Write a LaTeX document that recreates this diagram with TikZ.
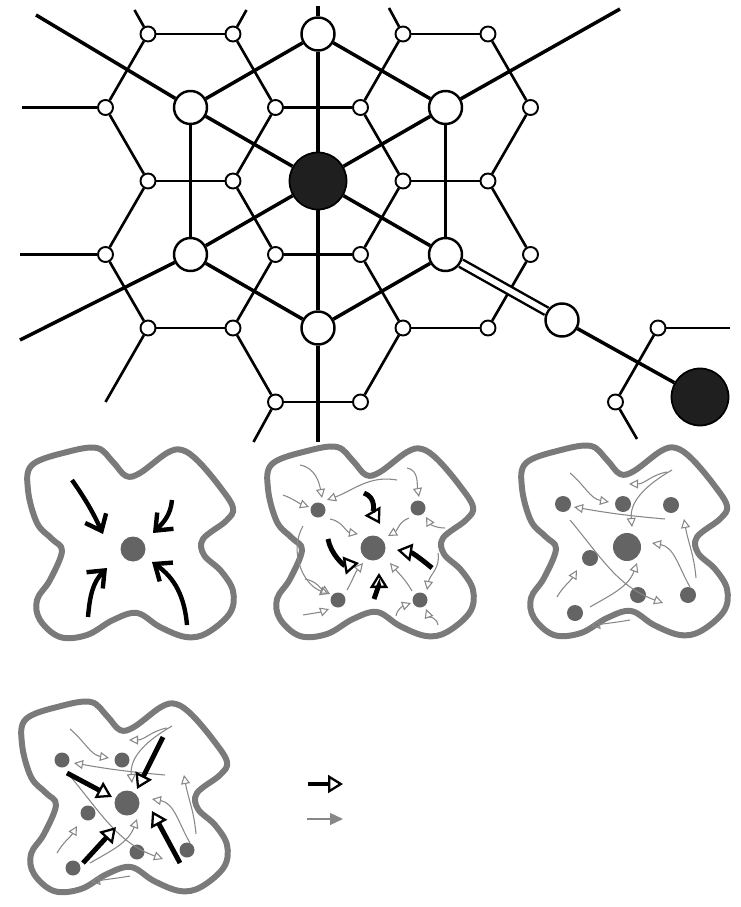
\documentclass[tikz,border=0pt]{standalone}
\usepackage{tikz}
\usetikzlibrary{arrows.meta}
\definecolor{lobegray}{RGB}{122,122,122}
\definecolor{dotgray}{RGB}{100,100,100}
\definecolor{driftgray}{RGB}{135,135,135}

% cross shaped cell, drawn round the current origin
\newcommand{\lobeoutline}{%
  \draw[lobe] plot[smooth cycle, tension=0.6] coordinates {
    (-2.02,1.68) (-1.32,1.94) (-0.72,2.02) (-0.40,1.74) (-0.14,1.46) (0.14,1.52)
    (0.68,1.92) (0.98,1.98) (1.30,1.76) (1.74,1.24) (2.00,0.82) (1.86,0.56)
    (1.40,0.20) (1.42,-0.12) (1.76,-0.44) (2.00,-0.84) (1.94,-1.28) (1.48,-1.68)
    (1.06,-1.76) (0.54,-1.56) (0.08,-1.28) (-0.40,-1.42) (-0.92,-1.72) (-1.46,-1.76)
    (-1.86,-1.42) (-1.92,-1.02) (-1.66,-0.62) (-1.42,-0.04) (-1.62,0.20) (-1.92,0.52)
    (-2.10,1.18)};}

% thin flows between the small cells
\newcommand{\wander}{%
  \draw[driftarrow] (-1.14,1.48) to[out=-40,in=170] (-0.36,0.90);
  \draw[driftarrow] (0.80,1.50) to[out=190,in=0] (0.04,1.26);
  \draw[driftarrow] (0.90,1.54) to[out=-150,in=95] (0.10,0.40);
  \draw[driftarrow] (0.76,0.56) to[out=175,in=-10] (-1.06,0.80);
  \draw[driftarrow] (-1.14,0.54) to[out=-50,in=160] (0.72,-1.12);
  \draw[driftarrow] (-0.74,-1.20) to[out=30,in=-110] (0.20,-0.32);
  \draw[driftarrow] (1.26,-0.80) to[out=120,in=-10] (0.50,0.08);
  \draw[driftarrow] (1.38,-0.62) to[out=95,in=-80] (1.14,0.56);
  \draw[driftarrow] (-1.40,-1.00) to[out=60,in=-120] (-1.00,-0.46);
  \draw[driftarrow] (0.06,-1.46) to[out=190,in=10] (-0.72,-1.58);}

\begin{document}
\begin{tikzpicture}[
    site/.style={draw, circle, fill=white, line width=1.1pt, minimum size=3mm, inner sep=0pt},
    hub/.style={draw, circle, fill=white, line width=1.4pt, minimum size=6.6mm, inner sep=0pt},
    core/.style={draw, circle, fill=black!88, line width=1pt, minimum size=11.4mm, inner sep=0pt},
    link/.style={line width=1.5pt},
    spoke/.style={line width=2pt},
    lobe/.style={draw=lobegray, line width=3.4pt, fill=white, line join=round},
    pullarrow/.style={line width=2.5pt, -{Straight Barb[length=2.8mm,width=4.6mm]}},
    pusharrow/.style={line width=2.8pt, -{Triangle[open,length=3mm,width=3.6mm,line width=1.3pt]}},
    driftarrow/.style={draw=driftgray, line width=0.6pt, -{Triangle[open,length=1.8mm,width=1.8mm]}}]
  \useasboundingbox (0,0) rectangle (14.82,-18.14);

  % centres of the seven hexagons
  \node[core] (c) at (6.36,-3.62) {};
  \node[hub] (t) at (6.36,-0.68) {};
  \node[hub] (b) at (6.36,-6.56) {};
  \node[hub] (ul) at (3.81,-2.15) {};
  \node[hub] (ll) at (3.81,-5.09) {};
  \node[hub] (ur) at (8.91,-2.15) {};
  \node[hub] (lr) at (8.91,-5.09) {};
  \node[hub] (relay) at (11.24,-6.40) {};
  \node[core] (sink) at (14.00,-7.94) {};

  % corners of the hexagons
  \node[site] (a1) at (2.96,-0.68) {};
  \node[site] (a2) at (4.66,-0.68) {};
  \node[site] (a3) at (8.06,-0.68) {};
  \node[site] (a4) at (9.76,-0.68) {};
  \node[site] (b1) at (2.11,-2.15) {};
  \node[site] (b2) at (5.51,-2.15) {};
  \node[site] (b3) at (7.21,-2.15) {};
  \node[site] (b4) at (10.61,-2.15) {};
  \node[site] (c1) at (2.96,-3.62) {};
  \node[site] (c2) at (4.66,-3.62) {};
  \node[site] (c3) at (8.06,-3.62) {};
  \node[site] (c4) at (9.76,-3.62) {};
  \node[site] (d1) at (2.11,-5.09) {};
  \node[site] (d2) at (5.51,-5.09) {};
  \node[site] (d3) at (7.21,-5.09) {};
  \node[site] (d4) at (10.61,-5.09) {};
  \node[site] (e1) at (2.96,-6.56) {};
  \node[site] (e2) at (4.66,-6.56) {};
  \node[site] (e3) at (8.06,-6.56) {};
  \node[site] (e4) at (9.76,-6.56) {};
  \node[site] (f1) at (5.51,-8.04) {};
  \node[site] (f2) at (7.21,-8.04) {};
  \node[site] (g1) at (13.16,-6.56) {};
  \node[site] (g2) at (12.31,-8.04) {};

  % loose ends
  \coordinate (a1x) at (2.69,-0.20);
  \coordinate (a2x) at (4.93,-0.20);
  \coordinate (a3x) at (7.78,-0.16);
  \coordinate (b1x) at (0.44,-2.15);
  \coordinate (d1x) at (0.40,-5.09);
  \coordinate (e1x) at (2.11,-8.04);
  \coordinate (f1x) at (5.07,-8.84);
  \coordinate (g1x) at (14.60,-6.56);
  \coordinate (g2x) at (12.74,-8.78);
  \coordinate (tx) at (6.36,-0.12);
  \coordinate (bx) at (6.36,-8.84);
  \coordinate (ulx) at (0.72,-0.30);
  \coordinate (llx) at (0.40,-6.80);
  \coordinate (urx) at (12.40,-0.18);

  % hexagon edges
  \draw[link] (b2) -- (c2); \draw[link] (c2) -- (c1); \draw[link] (c1) -- (b1);
  \draw[link] (b1) -- (a1); \draw[link] (a1) -- (a2); \draw[link] (a2) -- (b2);
  \draw[link] (b2) -- (b3); \draw[link] (b3) -- (a3);
  \draw[link] (a3) -- (a4); \draw[link] (a4) -- (b4); \draw[link] (b4) -- (c4);
  \draw[link] (c4) -- (c3); \draw[link] (c3) -- (b3);
  \draw[link] (c3) -- (d3); \draw[link] (d3) -- (d2); \draw[link] (d2) -- (c2);
  \draw[link] (d2) -- (e2); \draw[link] (e2) -- (e1); \draw[link] (e1) -- (d1); \draw[link] (d1) -- (c1);
  \draw[link] (c4) -- (d4); \draw[link] (d4) -- (e4); \draw[link] (e4) -- (e3); \draw[link] (e3) -- (d3);
  \draw[link] (e3) -- (f2); \draw[link] (f2) -- (f1); \draw[link] (f1) -- (e2);
  \draw[link] (g1) -- (g2);
  \draw[link] (a1) -- (a1x); \draw[link] (a2) -- (a2x); \draw[link] (a3) -- (a3x);
  \draw[link] (b1) -- (b1x); \draw[link] (d1) -- (d1x); \draw[link] (e1) -- (e1x);
  \draw[link] (f1) -- (f1x); \draw[link] (g1) -- (g1x); \draw[link] (g2) -- (g2x);

  % spokes and ring between the centres
  \draw[spoke] (tx) -- (t); \draw[spoke] (t) -- (c); \draw[spoke] (c) -- (b); \draw[spoke] (b) -- (bx);
  \draw[spoke] (ulx) -- (ul); \draw[spoke] (ul) -- (c); \draw[spoke] (c) -- (lr);
  \draw[spoke] (llx) -- (ll); \draw[spoke] (ll) -- (c); \draw[spoke] (c) -- (ur); \draw[spoke] (ur) -- (urx);
  \draw[spoke] (t) -- (ur); \draw[spoke] (ur) -- (lr); \draw[spoke] (lr) -- (b);
  \draw[spoke] (b) -- (ll); \draw[spoke] (ll) -- (ul); \draw[spoke] (ul) -- (t);
  \draw[line width=1.4pt, double=white, double distance=3.2pt] (lr) -- (relay);
  \draw[spoke] (relay) -- (sink);

  % cell 1
  \begin{scope}[shift={(2.66,-10.98)}]
    \lobeoutline
    \fill[dotgray] (0,0) circle (0.25);
    \draw[pullarrow] (-1.22,1.38) to[bend left=5] (-0.60,0.30);
    \draw[pullarrow] (0.78,0.98) to[out=-95,in=45] (0.40,0.32);
    \draw[pullarrow] (-0.90,-1.36) to[out=85,in=-135] (-0.52,-0.38);
    \draw[pullarrow] (1.08,-1.52) to[out=95,in=-35] (0.38,-0.26);
  \end{scope}

  % cell 2
  \begin{scope}[shift={(7.46,-10.96)}]
    \lobeoutline
    \fill[dotgray] (0,0) circle (0.25);
    \fill[dotgray] (-1.10,0.76) circle (0.15);
    \fill[dotgray] (0.90,0.80) circle (0.15);
    \fill[dotgray] (-0.70,-1.04) circle (0.15);
    \fill[dotgray] (0.94,-1.04) circle (0.15);
    \draw[driftarrow] (-1.46,1.66) to[out=-10,in=100] (-1.02,1.00);
    \draw[driftarrow] (-1.80,1.06) to[out=-20,in=160] (-1.28,0.82);
    \draw[driftarrow] (0.48,1.36) to[out=170,in=20] (-0.92,0.96);
    \draw[driftarrow] (0.68,1.60) to[out=-10,in=100] (0.92,1.02);
    \draw[driftarrow] (-0.86,0.58) to[out=-10,in=170] (-0.30,0.28);
    \draw[driftarrow] (0.72,0.60) to[out=200,in=30] (0.30,0.24);
    \draw[driftarrow] (1.44,0.40) to[out=180,in=-60] (1.06,0.62);
    \draw[driftarrow] (1.30,-0.10) to[out=-80,in=80] (1.08,-0.84);
    \draw[driftarrow] (-1.36,-0.62) to[out=-10,in=150] (-0.86,-0.92);
    \draw[driftarrow] (-1.40,-1.34) to[out=10,in=200] (-0.88,-1.22);
    \draw[driftarrow] (-0.52,-0.84) to[out=60,in=-130] (-0.20,-0.30);
    \draw[driftarrow] (0.78,-0.86) to[out=120,in=-50] (0.34,-0.30);
    \draw[driftarrow] (0.46,-1.36) to[out=80,in=200] (0.76,-1.10);
    \draw[driftarrow] (1.30,-1.54) to[out=100,in=-70] (1.06,-1.22);
    \draw[driftarrow] (-1.40,0.44) to[out=-120,in=160] (-0.88,-0.92);
    \draw[pusharrow] (-0.18,1.10) to[out=-20,in=120] (0.14,0.48);
    \draw[pusharrow] (-0.90,0.18) to[out=-80,in=190] (-0.28,-0.30);
    \draw[pusharrow] (1.18,-0.40) to[out=140,in=-10] (0.48,-0.04);
    \draw[pusharrow] (0.02,-1.02) to[out=70,in=-90] (0.12,-0.50);
  \end{scope}

  % cell 3
  \begin{scope}[shift={(12.54,-10.94)}]
    \lobeoutline
    \fill[dotgray] (0,0) circle (0.28);
    \fill[dotgray] (-1.28,0.86) circle (0.16);
    \fill[dotgray] (-0.08,0.86) circle (0.16);
    \fill[dotgray] (0.88,0.84) circle (0.16);
    \fill[dotgray] (-0.74,-0.22) circle (0.16);
    \fill[dotgray] (0.22,-0.96) circle (0.16);
    \fill[dotgray] (1.22,-0.96) circle (0.16);
    \fill[dotgray] (-1.04,-1.32) circle (0.16);
    \wander
  \end{scope}

  % cell 4
  \begin{scope}[shift={(2.54,-16.06)}]
    \lobeoutline
    \fill[dotgray] (0,0) circle (0.25);
    \fill[dotgray] (-1.30,0.86) circle (0.15);
    \fill[dotgray] (-0.10,0.86) circle (0.15);
    \fill[dotgray] (-0.78,-0.20) circle (0.15);
    \fill[dotgray] (0.20,-0.98) circle (0.15);
    \fill[dotgray] (1.20,-0.94) circle (0.15);
    \fill[dotgray] (-1.08,-1.30) circle (0.15);
    \wander
    \draw[pusharrow] (-1.20,0.60) -- (-0.30,0.12);
    \draw[pusharrow] (0.72,1.32) -- (0.20,0.28);
    \draw[pusharrow] (-0.88,-1.20) -- (-0.22,-0.48);
    \draw[pusharrow] (1.06,-1.20) -- (0.50,-0.16);
  \end{scope}

  % key
  \coordinate (k1) at (6.16,-15.68);
  \coordinate (k1e) at (6.86,-15.68);
  \coordinate (k2) at (6.14,-16.38);
  \coordinate (k2e) at (6.86,-16.38);
  \draw[pusharrow] (k1) -- (k1e);
  \draw[draw=driftgray, line width=0.6pt, -{Triangle[length=2.6mm,width=2.4mm]}] (k2) -- (k2e);
\end{tikzpicture}
\end{document}
